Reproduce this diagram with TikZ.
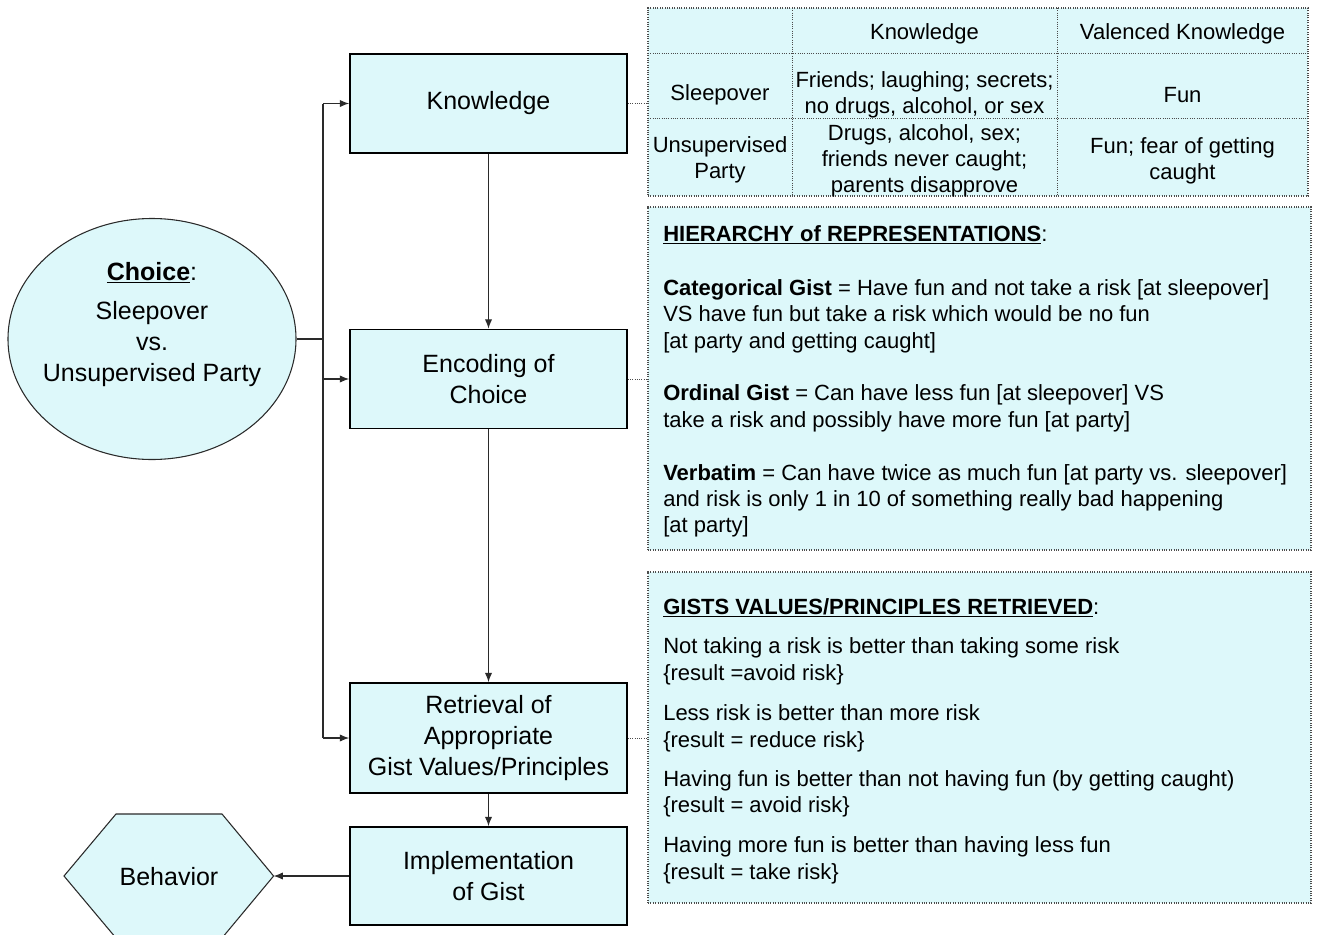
\documentclass[tikz,border=0pt]{standalone}
\usepackage{fontspec}
\setmainfont{Liberation Sans}
\usetikzlibrary{arrows.meta,shapes.geometric}
\definecolor{cy}{HTML}{DDF8FA}
\definecolor{ln}{HTML}{2A2A2A}
\begin{document}
\begin{tikzpicture}[x=0.75pt,y=-0.75pt,
  box/.style={draw=black,line width=1.3pt,fill=cy,minimum width=207.75pt,align=center,font=\fontsize{18.75}{23}\selectfont,inner sep=0pt},
  btxt/.style={inner sep=0pt,font=\fontsize{18.75}{23}\selectfont},
  arr/.style={draw=ln,line width=0.8pt,-{Latex[length=7pt,width=5.5pt]}},
  plain/.style={draw=ln,line width=0.8pt},
  dots/.style={draw=gray!60!black,line width=0.7pt,densely dotted},
  pnl/.style={draw=gray!60!black,densely dotted,line width=0.8pt,fill=cy,inner sep=0pt},
  ptxt/.style={anchor=base west,inner sep=0pt,font=\fontsize{16.5}{19.9}\selectfont},
  cell/.style={inner sep=0pt,align=center,font=\fontsize{16.5}{19.5}\selectfont}]
\clip (0,0) rectangle (1324,935);

% main boxes
\node[box,minimum height=74.25pt] (kn) at (488.5,103.5) {Knowledge};
\node[box,minimum height=74.25pt] (enc) at (488.5,379) {Encoding of\\Choice};
\node[box,minimum height=82.5pt] (ret) at (488.5,738) {Retrieval of\\Appropriate\\Gist Values/Principles};
\node[box,minimum height=73.5pt] (imp) at (488.5,876) {Implementation\\of Gist};

% choice ellipse
\node[ellipse,draw=ln,line width=0.8pt,fill=cy,minimum width=216pt,minimum height=180.75pt,inner sep=0pt] (ch) at (152,339) {};
\node[btxt,anchor=base] (chA) at (152,280) {\underline{\textbf{Choice}}:};
\node[btxt,anchor=base] (chB) at (152,319) {Sleepover};
\node[btxt,anchor=base] (chC) at (152,350) {vs.};
\node[btxt,anchor=base] (chD) at (152,381) {Unsupervised Party};

% behavior hexagon
\draw[plain,fill=cy] (64,876) -- (116,814) -- (222,814) -- (273.6,876) -- (222,938) -- (116,938) -- cycle;
\node[btxt] (beh) at (169,877) {Behavior};
\coordinate (behR) at (273.6,876);

% table
\node[pnl,minimum width=495pt,minimum height=141pt] (tbl) at (978,102) {};
\draw[dots] (792,8) -- (792,196);
\draw[dots] (1057,8) -- (1057,196);
\draw[dots] (648,53) -- (1308,53);
\draw[dots] (648,118) -- (1308,118);
\node[cell] (tK) at (924.5,34) {Knowledge};
\node[cell] (tV) at (1182.5,34) {Valenced Knowledge};
\node[cell] (tS) at (720,95) {Sleepover};
\node[cell] (tSK) at (924.5,95) {Friends; laughing; secrets;\\no drugs, alcohol, or sex};
\node[cell] (tSV) at (1182.5,95) {Fun};
\node[cell] (tU) at (720,160) {Unsupervised\\Party};
\node[cell] (tUK) at (924.5,161) {Drugs, alcohol, sex;\\friends never caught;\\parents disapprove};
\node[cell] (tUV) at (1182.5,161) {Fun; fear of getting\\caught};

% panel 1
\node[pnl,minimum width=497.25pt,minimum height=257.25pt] (p1) at (979.5,378.5) {};
\node[ptxt] (p1a) at (663,241) {\underline{\textbf{HIERARCHY of REPRESENTATIONS}}:};
\node[ptxt] (p1b) at (663,295) {\textbf{Categorical Gist} = Have fun and not take a risk [at sleepover]};
\node[ptxt] (p1c) at (663,321) {VS have fun but take a risk which would be no fun};
\node[ptxt] (p1d) at (663,348) {[at party and getting caught]};
\node[ptxt] (p1e) at (663,400) {\textbf{Ordinal Gist} = Can have less fun [at sleepover] VS};
\node[ptxt] (p1f) at (663,427) {take a risk and possibly have more fun [at party]};
\node[ptxt] (p1g) at (663,480) {\textbf{Verbatim} = Can have twice as much fun [at party vs. sleepover]};
\node[ptxt] (p1h) at (663,506) {and risk is only 1 in 10 of something really bad happening};
\node[ptxt] (p1i) at (663,532) {[at party]};

% panel 2
\node[pnl,minimum width=497.25pt,minimum height=248.25pt] (p2) at (979.5,737.5) {};
\node[ptxt] (p2a) at (663,614) {\underline{\textbf{GISTS VALUES/PRINCIPLES RETRIEVED}}:};
\node[ptxt] (p2b) at (663,653) {Not taking a risk is better than taking some risk};
\node[ptxt] (p2c) at (663,680) {\{result =avoid risk\}};
\node[ptxt] (p2d) at (663,720) {Less risk is better than more risk};
\node[ptxt] (p2e) at (663,747) {\{result = reduce risk\}};
\node[ptxt] (p2f) at (663,786) {Having fun is better than not having fun (by getting caught)};
\node[ptxt] (p2g) at (663,812) {\{result = avoid risk\}};
\node[ptxt] (p2h) at (663,852) {Having more fun is better than having less fun};
\node[ptxt] (p2i) at (663,879) {\{result = take risk\}};

% connectors
\coordinate (tT) at (323,103.5);
\coordinate (tM) at (323,339);
\coordinate (tB) at (323,738);
\draw[plain] (tT) -- (tB);
\draw[plain] (ch.east) -- (tM);
\draw[arr] (tT) -- (kn.west);
\draw[arr] (enc.west -| tT) -- (enc.west);
\draw[arr] (tB) -- (ret.west);
\draw[arr] (kn.south) -- (enc.north);
\draw[arr] (enc.south) -- (ret.north);
\draw[arr] (ret.south) -- (imp.north);
\draw[arr] (imp.west) -- (behR);
\draw[dots] (kn.east) -- (kn.east -| tbl.west);
\draw[dots] (enc.east) -- (enc.east -| p1.west);
\draw[dots] (ret.east) -- (ret.east -| p2.west);
\end{tikzpicture}
\end{document}
